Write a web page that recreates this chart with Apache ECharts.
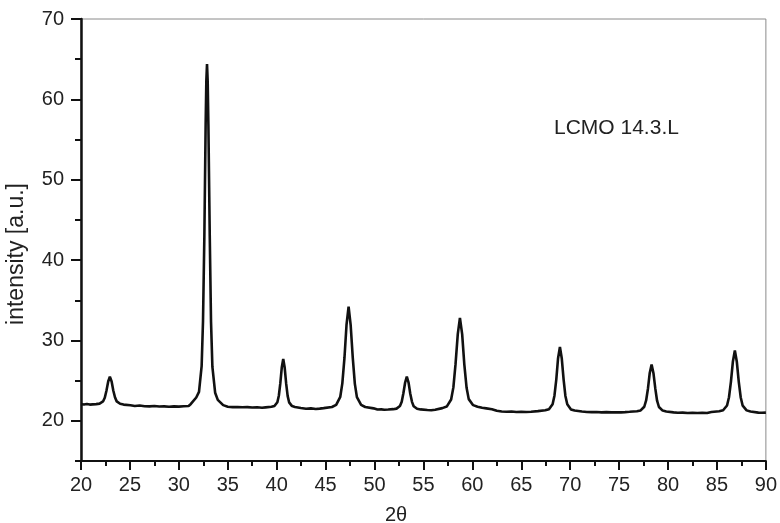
<!DOCTYPE html>
<html>
<head>
<meta charset="utf-8">
<script src="https://cdn.jsdelivr.net/npm/echarts@6/dist/echarts.min.js"></script>
<style>html,body{margin:0;padding:0;background:#fff}#c{width:780px;height:523px}</style>
</head>
<body>
<div id="c"></div>
<script>
var twoTheta = [
  20.0,20.3,20.6,20.9,21.2,21.55,21.9,
  22.25,22.43,22.6,22.78,22.95,23.13,23.3,23.48,23.65,24.0,24.35,25.05,
  25.5,26.0,26.5,27.0,27.5,28.0,28.5,29.0,29.5,30.0,30.5,31.0,
  31.23,31.78,32.06,32.33,32.47,32.61,32.74,32.81,32.88,32.95,33.02,33.16,33.29,33.43,33.71,33.98,34.53,
  35.0,35.5,36.0,36.5,37.0,37.5,38.0,38.5,
  38.87,39.47,39.77,40.07,40.22,40.37,40.52,40.67,40.82,40.97,41.12,41.27,41.57,41.87,42.47,
  43.0,43.5,44.0,44.4,
  44.8,45.65,46.08,46.5,46.71,46.93,47.14,47.35,47.56,47.78,47.99,48.2,48.63,49.05,49.9,
  50.3,50.7,51.0,
  51.4,51.9,52.25,52.6,52.78,52.95,53.13,53.3,53.48,53.65,53.83,54.0,54.35,54.7,55.4,
  55.8,
  56.2,56.93,57.38,57.83,58.06,58.28,58.51,58.73,58.96,59.18,59.41,59.63,60.08,60.53,61.0,61.43,62.0,62.5,63.0,
  63.5,64.0,64.5,65.0,65.5,66.0,
  66.7,67.45,67.83,68.2,68.39,68.58,68.76,68.95,69.14,69.33,69.51,69.7,70.08,70.45,71.2,
  71.7,72.2,72.7,73.2,73.7,74.2,74.7,75.2,75.6,
  76.07,76.82,77.2,77.57,77.76,77.95,78.13,78.32,78.51,78.7,78.88,79.07,79.45,79.82,80.57,
  81.0,81.5,82.0,82.5,83.0,83.5,84.0,
  84.43,85.23,85.63,86.03,86.23,86.43,86.63,86.83,87.03,87.23,87.43,87.63,88.03,88.43,89.23,
  89.6,90.0
];
var intensity = [
  22.08,22.03,22.1,22.02,22.05,22.08,22.14,
  22.41,22.87,23.75,24.89,25.5,24.9,23.78,22.9,22.42,22.12,22.02,21.93,
  21.85,21.9,21.82,21.8,21.85,21.78,21.8,21.75,21.8,21.77,21.82,21.85,
  22.1,22.9,23.6,26.8,32.4,43.1,56.9,62.3,64.4,62.2,56.9,43.0,32.3,26.7,23.5,22.6,21.95,
  21.75,21.7,21.72,21.68,21.7,21.65,21.68,21.62,
  21.67,21.75,21.85,22.32,23.12,24.65,26.63,27.7,26.6,24.62,23.1,22.3,21.83,21.72,21.6,
  21.5,21.55,21.48,21.52,
  21.58,21.72,21.98,22.99,24.66,27.85,31.98,34.2,31.95,27.8,24.6,22.95,21.98,21.72,21.55,
  21.4,21.42,21.38,
  21.4,21.45,21.52,21.84,22.38,23.43,24.77,25.5,24.75,23.4,22.36,21.82,21.5,21.42,21.34,
  21.32,
  21.38,21.58,21.77,22.65,24.16,27.05,30.79,32.8,30.75,27.0,24.1,22.7,21.95,21.75,21.62,21.55,21.45,21.25,21.15,
  21.12,21.15,21.1,21.12,21.1,21.13,
  21.21,21.31,21.45,22.07,23.13,25.16,27.79,29.2,27.75,25.1,23.1,22.05,21.42,21.28,21.15,
  21.1,21.08,21.1,21.05,21.08,21.05,21.07,21.05,21.08,
  21.12,21.19,21.29,21.75,22.53,24.03,25.96,27.0,25.93,24.0,22.5,21.72,21.27,21.15,21.05,
  21.0,21.02,20.98,21.0,20.97,21.0,20.98,
  21.09,21.19,21.32,21.91,22.93,24.88,27.39,28.75,27.35,24.85,22.9,21.88,21.3,21.15,21.02,
  21.0,21.02
];
var xTickLabels = [20,25,30,35,40,45,50,55,60,65,70,75,80,85,90];
var yTickLabels = [20,30,40,50,60,70];
var yMinorTicks = [15,25,35,45,55,65];
var legendText = 'LCMO 14.3.L';
var xTitle = '2θ';
var yTitle = 'intensity [a.u.]';

var pts = twoTheta.map(function (x, i) { return [x, intensity[i]]; });
var chart = echarts.init(document.getElementById('c'), null, {renderer: 'canvas'});
var FONT = 'Liberation Sans, Arial, sans-serif';
chart.setOption({
  animation: false,
  backgroundColor: '#fff',
  grid: {left: 81, right: 13, top: 19, bottom: 62, show: true, borderColor: '#8a8a8a', borderWidth: 1, backgroundColor: 'transparent'},
  xAxis: {
    type: 'value', min: 20, max: 90, interval: 5,
    axisLine: {show: true, onZero: false, lineStyle: {color: '#111', width: 2}},
    axisTick: {show: true, inside: false, length: 9, lineStyle: {color: '#111', width: 2}},
    minorTick: {show: true, splitNumber: 2, length: 5, lineStyle: {color: '#111', width: 2}},
    splitLine: {show: false},
    axisLabel: {color: '#222', fontSize: 20, fontFamily: FONT, margin: 14,
      customValues: xTickLabels}
  },
  yAxis: [{
    type: 'value', min: 15, max: 70,
    axisLine: {show: true, onZero: false, lineStyle: {color: '#111', width: 2.5}},
    axisTick: {show: true, inside: false, length: 10, customValues: yTickLabels, lineStyle: {color: '#111', width: 2}},
    splitLine: {show: false},
    axisLabel: {color: '#222', fontSize: 20, fontFamily: FONT, margin: 17, customValues: yTickLabels}
  }, {
    type: 'value', min: 15, max: 70, position: 'left',
    axisLine: {show: false},
    axisTick: {show: true, inside: false, length: 6, customValues: yMinorTicks, lineStyle: {color: '#111', width: 2}},
    splitLine: {show: false},
    axisLabel: {show: false}
  }],
  series: [{
    type: 'line', data: pts, showSymbol: false, symbol: 'none',
    lineStyle: {color: '#111', width: 2.6},
    z: 3
  }],
  graphic: [
    {type: 'text', left: 554, top: 118, style: {text: legendText, fill: '#222', font: '21px ' + FONT}},
    {type: 'text', x: 396, y: 515, style: {text: xTitle, fill: '#222', font: '20px ' + FONT, textAlign: 'center', textVerticalAlign: 'middle'}},
    {type: 'text', x: 17, y: 254, rotation: Math.PI / 2, style: {text: yTitle, fill: '#222', font: '23px ' + FONT, textAlign: 'center', textVerticalAlign: 'middle'}}
  ]
});
</script>
</body>
</html>
